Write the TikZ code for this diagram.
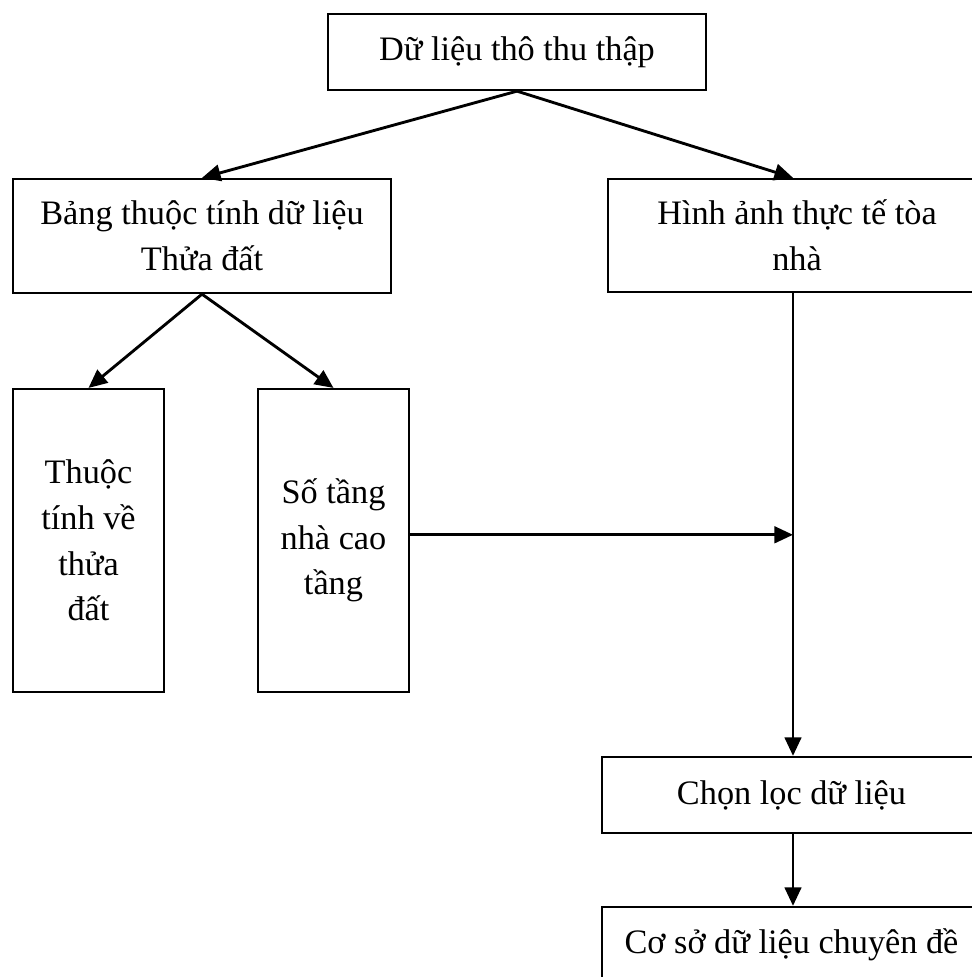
\documentclass[tikz,border=0pt]{standalone}
\usepackage{fontspec}
\setmainfont{Liberation Serif}
\usetikzlibrary{arrows.meta}

\begin{document}
\begin{tikzpicture}[x=0.35pt,y=-0.35pt,
  box/.style={draw,line width=0.8pt,align=center,inner sep=0pt,
    font=\fontsize{12}{16}\selectfont},
  wide/.style={box,minimum width=132.3pt,minimum height=26.6pt},
  tall/.style={box,minimum width=52.85pt,minimum height=106pt},
  link/.style={line width=1pt,-{Triangle[length=6.5pt,width=5.8pt]}}]
\useasboundingbox (0,0) rectangle (972,977);
\clip (0,0) rectangle (972,977);
\node[wide] (raw) at (517,52) {Dữ liệu thô thu thập};
\node[wide,minimum height=39.9pt] (attr) at (202,236) {Bảng thuộc tính dữ liệu\\Thửa đất};
\node[wide,minimum height=39.6pt] (photo) at (797,235.5) {Hình ảnh thực tế tòa\\nhà};
\node[tall] (parcel) at (88.5,540.5) {Thuộc\\tính về\\thửa\\đất};
\node[tall] (floors) at (333.5,540.5) {Số tầng\\nhà cao\\tầng};
\node[wide,minimum width=132.7pt] (select) at (791.5,795) {Chọn lọc dữ liệu};
\node[wide,minimum width=132.7pt] (db) at (791.5,945) {Cơ sở dữ liệu chuyên đề};
\coordinate (bus) at (793,0);
\draw[link] (raw.south) -- (attr.north);
\draw[link] (raw.south) -- (photo.north -| bus);
\draw[link] (attr.south) -- (parcel.north);
\draw[link] (attr.south) -- (floors.north);
\draw[link] (photo.south -| bus) -- (select.north -| bus);
\draw[link] ([yshift=2pt]floors.east) -- ([yshift=2pt]floors.east -| bus);
\draw[link] (select.south -| bus) -- (db.north -| bus);
\end{tikzpicture}
\end{document}
